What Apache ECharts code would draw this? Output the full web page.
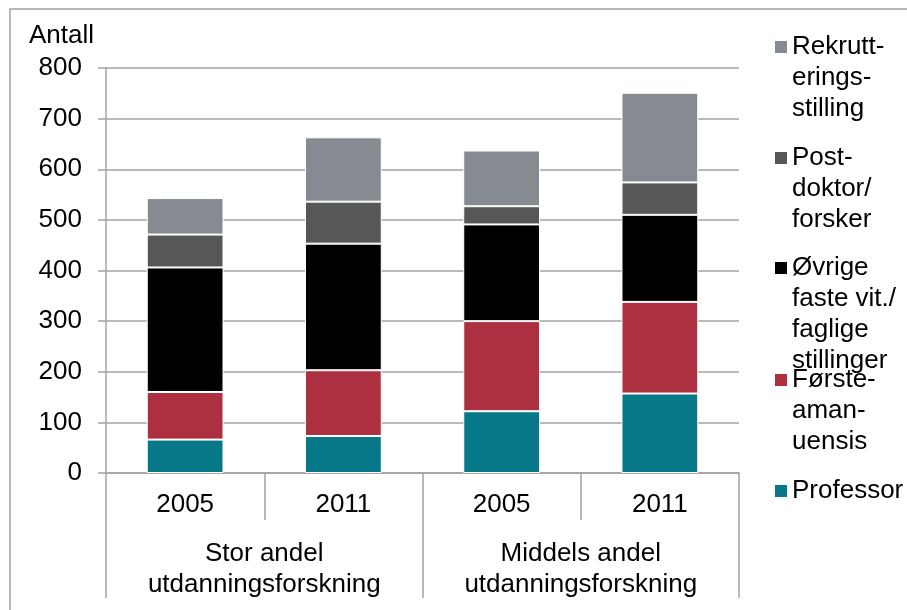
<!DOCTYPE html>
<html>
<head>
<meta charset="utf-8">
<script src="https://cdn.jsdelivr.net/npm/echarts@6/dist/echarts.min.js"></script>
<style>
  html, body { margin: 0; padding: 0; background: #fff; }
  #main { width: 907px; height: 610px; }
</style>
</head>
<body>
<div id="main"></div>
<script>
// categories (inner level = year, outer level = group)
const years = ['2005', '2011', '2005', '2011'];
const groups = ['Stor andel\nutdanningsforskning', 'Middels andel\nutdanningsforskning'];
const yTicks = [0, 100, 200, 300, 400, 500, 600, 700, 800];

// values (Antall)
const professor = [66, 73, 122, 157];
const forsteaman = [94, 130, 178, 181];
const ovrige = [246, 250, 191, 172];
const postdoktor = [65, 83, 36, 64];
const rekruttering = [72, 127, 110, 177];

const names = {
  prof: 'Professor',
  forste: 'Første-\naman-\nuensis',
  ovrige: 'Øvrige\nfaste vit./\nfaglige\nstillinger',
  post: 'Post-\ndoktor/\nforsker',
  rekr: 'Rekrutt-\nerings-\nstilling'
};
const colors = {
  prof: '#077887',
  forste: '#ad3040',
  ovrige: '#000000',
  post: '#575757',
  rekr: '#868a91'
};

const FONT = 'Liberation Sans, Arial, sans-serif';
const FS = 26;
const LH = 31;
const GRAY = '#a3a3a3';

const chart = echarts.init(document.getElementById('main'));

function bar(key, data) {
  return {
    name: names[key],
    type: 'bar',
    stack: 'total',
    barWidth: '48.5%',
    data: data,
    itemStyle: { color: colors[key], borderColor: '#fff', borderWidth: 1 },
    emphasis: { disabled: true }
  };
}

// one legend per series; the icon is a tall box with the square at its top,
// so the square sits next to the first line of the wrapped name
function legendItem(key, yc) {
  const n = names[key].split('\n').length;
  const h = 12 + (n - 1) * LH;
  return {
    left: 775,
    top: yc - LH / 2,
    padding: 0,
    orient: 'vertical',
    icon: 'path://M0,0H12V12H0Z M0,' + (h - 0.05) + 'H0.05V' + h + 'H0Z',
    itemWidth: 12,
    itemHeight: h,
    selectedMode: false,
    itemStyle: { borderWidth: 0 },
    data: [names[key]],
    textStyle: { fontFamily: FONT, fontSize: FS, lineHeight: LH, color: '#000' }
  };
}

const option = {
  animation: false,
  backgroundColor: '#fff',
  textStyle: { fontFamily: FONT },
  title: {
    text: 'Antall',
    left: 29,
    top: 23,
    padding: 0,
    textStyle: { fontFamily: FONT, fontSize: FS, fontWeight: 'normal', color: '#000' }
  },
  graphic: [{
    type: 'rect',
    shape: { x: 10, y: 9, width: 1000, height: 700 },
    style: { fill: 'none', stroke: GRAY, lineWidth: 1.5 },
    silent: true
  }],
  legend: [
    legendItem('rekr', 47),
    legendItem('post', 158),
    legendItem('ovrige', 268),
    legendItem('forste', 380),
    legendItem('prof', 491)
  ],
  grid: { left: 106, right: 168, top: 68, bottom: 137 },
  xAxis: [{
    type: 'category',
    data: years,
    position: 'bottom',
    axisLine: { lineStyle: { color: GRAY, width: 1.5 } },
    axisTick: { show: true, length: 47, interval: 0, lineStyle: { color: GRAY, width: 1.5 } },
    axisLabel: { margin: 16, fontSize: FS, lineHeight: LH, color: '#000', fontFamily: FONT, interval: 0 }
  }, {
    type: 'category',
    data: groups,
    position: 'bottom',
    offset: 0,
    axisLine: { show: false },
    axisTick: { show: true, length: 125, interval: 0, lineStyle: { color: GRAY, width: 1.5 } },
    axisLabel: { margin: 65, fontSize: FS, lineHeight: LH, color: '#000', fontFamily: FONT, interval: 0 }
  }],
  yAxis: {
    type: 'value',
    min: yTicks[0],
    max: yTicks[yTicks.length - 1],
    interval: 100,
    axisLine: { show: true, lineStyle: { color: GRAY, width: 1.5 } },
    axisTick: { show: true, length: 8, lineStyle: { color: GRAY, width: 1.5 } },
    splitLine: { lineStyle: { color: GRAY, width: 1.5 } },
    axisLabel: { margin: 24, fontSize: FS, color: '#000', fontFamily: FONT }
  },
  series: [
    bar('prof', professor),
    bar('forste', forsteaman),
    bar('ovrige', ovrige),
    bar('post', postdoktor),
    bar('rekr', rekruttering)
  ]
};

chart.setOption(option);
</script>
</body>
</html>
